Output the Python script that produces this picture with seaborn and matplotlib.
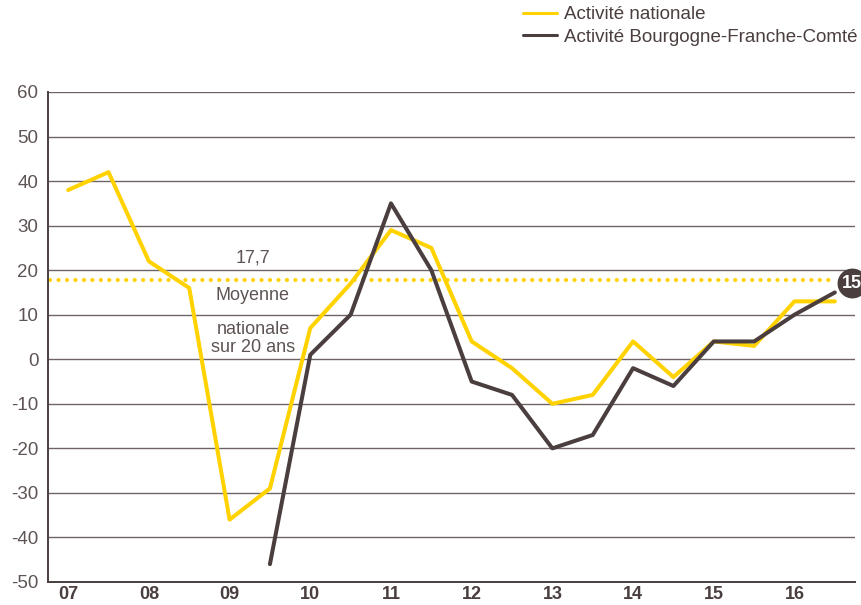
import pandas as pd
import numpy as np
import matplotlib
matplotlib.use('Agg')
import matplotlib.pyplot as plt
import seaborn as sns

# semestres 2007 S1 -> 2016 S2
annees = ['07', '08', '09', '10', '11', '12', '13', '14', '15', '16']
nationale = [38, 42, 22, 16, -36, -29, 7, 17, 29, 25,
             4, -2, -10, -8, 4, -4, 4, 3, 13, 13]
bfc = [np.nan] * 5 + [-46, 1, 10, 35, 20,
                      -5, -8, -20, -17, -2, -6, 4, 4, 10, 15]
moyenne = 17.7
dernier = 15

JAUNE = '#ffd200'
BRUN = '#4a3e3e'
GRIS = '#5e5454'

sns.set_style('white')
plt.rcParams['font.family'] = ['Liberation Sans', 'DejaVu Sans']

n = len(nationale)
df = pd.DataFrame({
    'pos': np.arange(n) + 0.5,
    'Activité nationale': nationale,
    'Activité Bourgogne-Franche-Comté': bfc,
})

fig = plt.figure(figsize=(8.61, 6.05), dpi=100)
ax = fig.add_axes([48 / 861, 23 / 605, 807 / 861, 490 / 605])

# grille horizontale
for v in range(-40, 70, 10):
    ax.axhline(v, color='#6e6464', lw=1, zorder=1)

# moyenne nationale sur 20 ans
ax.plot([0.05, 19.5], [moyenne, moyenne], color=JAUNE, lw=2.9,
        linestyle=(0, (0.05, 2.05)), dash_capstyle='round', zorder=2)

sns.lineplot(data=df, x='pos', y='Activité nationale', color=JAUNE,
             lw=2.9, label='Activité nationale', ax=ax, zorder=3)
sns.lineplot(data=df, x='pos', y='Activité Bourgogne-Franche-Comté',
             color=BRUN, lw=2.9, label='Activité Bourgogne-Franche-Comté',
             ax=ax, zorder=4)

ax.text(5.08, 22.7, '17,7', ha='center', va='center', fontsize=13, color=GRIS)
ax.text(5.08, 14.4, 'Moyenne', ha='center', va='center', fontsize=13, color=GRIS)
ax.text(5.08, 4.6, 'nationale\nsur 20 ans', ha='center', va='center',
        fontsize=13, color=GRIS, linespacing=1.05)

# pastille valeur finale
ax.plot([19.92], [17.05], marker='o', ms=20.5, color=BRUN, clip_on=False, zorder=5)
ax.text(19.92, 17.05, str(dernier), ha='center', va='center', color='white',
        fontsize=13, fontweight='bold', clip_on=False, zorder=6)

ax.set_xlim(0, n)
ax.set_ylim(-50, 60)
ax.set_yticks(range(-50, 70, 10))
ax.set_yticklabels([str(v) for v in range(-50, 70, 10)])
ax.set_xticks(np.arange(len(annees)) * 2 + 0.5)
ax.set_xticklabels(annees, fontweight='bold')
ax.set_xticks(np.arange(n + 1), minor=True)
ax.tick_params(axis='x', which='major', length=0, pad=3, labelsize=13, labelcolor=BRUN)
ax.tick_params(axis='x', which='minor', length=4, width=1.2, color=BRUN, direction='out')
ax.tick_params(axis='y', length=0, pad=7, labelsize=13.5, labelcolor=GRIS)
ax.set_xlabel('')
ax.set_ylabel('')

for s in ['top', 'right']:
    ax.spines[s].set_visible(False)
for s in ['left', 'bottom']:
    ax.spines[s].set_color(BRUN)
    ax.spines[s].set_linewidth(1.4)

handles, labels = ax.get_legend_handles_labels()
ax.get_legend().remove()
leg = fig.legend(handles, labels, loc='upper right', bbox_to_anchor=(858 / 861, 1 - 6 / 605),
                 frameon=False, fontsize=13.5, handlelength=1.8, handletextpad=0.4,
                 labelspacing=0.28, borderpad=0, borderaxespad=0)
for t in leg.get_texts():
    t.set_color(BRUN)
for h in leg.legend_handles:
    h.set_linewidth(2.2)

fig.savefig('out.png', dpi=100)
